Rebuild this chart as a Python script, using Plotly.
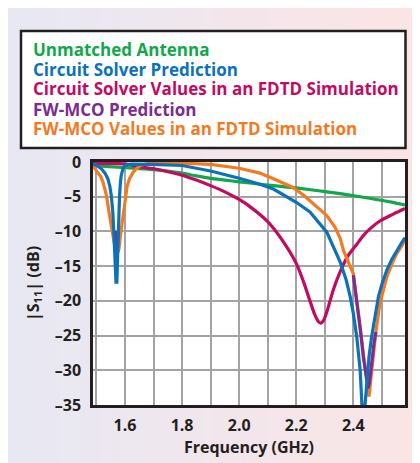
import plotly.graph_objects as go

# ---------------- data ----------------
series_names = [
    "Unmatched Antenna",
    "Circuit Solver Prediction",
    "Circuit Solver Values in an FDTD Simulation",
    "FW-MCO Prediction",
    "FW-MCO Values in an FDTD Simulation",
]
series_colors = ["#10a84a", "#0a72bb", "#c4095f", "#7d2b90", "#f57a1f"]

green_x = [1.488, 1.52, 1.56, 1.606, 1.65, 1.69, 1.75, 1.80, 1.85, 1.90, 1.95, 2.00,
           2.073, 2.13, 2.19, 2.25, 2.307, 2.36, 2.424, 2.48, 2.53, 2.581]
green_y = [-0.5, -0.6, -0.7, -0.8, -0.95, -1.05, -1.3, -1.6, -2.0, -2.35, -2.6, -2.85,
           -3.2, -3.45, -3.7, -4.0, -4.3, -4.6, -5.0, -5.4, -5.75, -6.2]

blue_x = [1.488, 1.50, 1.517, 1.53, 1.540, 1.547, 1.552, 1.557, 1.561, 1.565, 1.5685,
          1.5715, 1.5735, 1.575, 1.578, 1.581, 1.584, 1.587, 1.593, 1.599, 1.62, 1.69,
          1.80, 1.90, 2.00, 2.073, 2.12, 2.16, 2.20, 2.248, 2.307, 2.354, 2.375, 2.389,
          2.40, 2.412, 2.424, 2.43, 2.436, 2.441, 2.447, 2.455, 2.464, 2.476, 2.488,
          2.50, 2.517, 2.535, 2.552, 2.568, 2.581]
blue_y = [-0.3, -0.45, -0.95, -1.6, -2.4, -3.5, -4.8, -7.0, -10.1, -13.8, -17.3,
          -17.3, -14.0, -11.0, -7.5, -4.8, -3.0, -1.9, -1.0, -0.5, -0.3, -0.33,
          -0.5, -1.3, -2.35, -3.2, -3.9, -4.8, -5.8, -7.2, -10.1, -14.4, -17.0, -19.4,
          -21.8, -25.2, -30.0, -35.0, -37.0, -35.0, -31.4, -28.0, -25.2, -22.0, -19.4,
          -17.6, -15.6, -14.0, -12.7, -11.7, -10.9]

magenta_x = [1.488, 1.55, 1.606, 1.652, 1.69, 1.75, 1.80, 1.85, 1.90, 1.95, 2.00, 2.04,
             2.10, 2.155, 2.20, 2.226, 2.248, 2.265, 2.276, 2.286, 2.296, 2.307, 2.33,
             2.354, 2.38, 2.413, 2.435, 2.459, 2.493, 2.54, 2.581]
magenta_y = [-0.2, -0.2, -0.3, -0.7, -0.9, -1.4, -1.9, -2.6, -3.4, -4.3, -5.4, -6.5,
             -8.6, -11.5, -14.6, -17.3, -20.0, -22.0, -22.9, -23.2, -22.8, -21.6, -18.4,
             -15.8, -13.6, -11.8, -10.6, -9.6, -8.5, -7.5, -6.7]

orange_x = [1.488, 1.504, 1.515, 1.523, 1.535, 1.546, 1.558, 1.566, 1.572, 1.579, 1.584,
            1.593, 1.601, 1.608, 1.616, 1.628, 1.640, 1.655, 1.675, 1.72, 1.80, 1.90,
            2.00, 2.073, 2.13, 2.19, 2.226, 2.26, 2.307, 2.336, 2.354, 2.366, 2.40,
            2.418, 2.435, 2.447, 2.455, 2.463, 2.472, 2.479, 2.493, 2.517, 2.535,
            2.552, 2.568, 2.581]
orange_y = [-0.6, -1.4, -2.1, -2.9, -4.8, -7.7, -10.6, -12.5, -13.3, -12.5, -10.6,
            -7.7, -4.8, -3.4, -2.4, -1.5, -0.95, -0.5, -0.25, -0.15, -0.15, -0.35,
            -0.9, -1.6, -2.6, -3.7, -4.8, -6.0, -7.7, -9.4, -11.0, -12.8, -16.1,
            -21.8, -28.1, -31.6, -33.8, -30.5, -26.5, -24.5, -20.4, -16.6, -14.7,
            -13.2, -12.2, -11.3]

# FW-MCO prediction: only the parts visible above the FDTD curve
purple_x = [1.5655, 1.571, 1.5765, None, 2.40, 2.409, 2.418, 2.427, 2.435, 2.447,
            2.452, 2.457, 2.461, 2.472, 2.479]
purple_y = [-9.9, -13.4, -9.9, None, -16.3, -19.0, -21.8, -25.0, -28.1, -31.4,
            -32.6, -31.6, -30.0, -26.2, -24.5]

x_tickvals = [1.6, 1.8, 2.0, 2.2, 2.4]
x_ticktext = ["1.6", "1.8", "2.0", "2.2", "2.4"]
y_tickvals = [0, -5, -10, -15, -20, -25, -30, -35]
y_ticktext = ["0", "–5", "–10", "–15", "–20", "–25", "–30", "–35"]

# ---------------- figure ----------------
# the page body has an 8 px margin, so the figure is drawn 8 px in from the corner
OFF = 8
W, H = 420 - OFF, 463 - OFF
PL, PR, PT, PB = 93, 405, 162, 405          # plot area in page pixels
ML, MR, MT, MB = PL - OFF, 420 - PR, PT - OFF, 463 - PB
FONT = "Open Sans"
INK = "#231f20"

fig = go.Figure()
trace_data = [
    (green_x, green_y, 0, "spline"),
    (magenta_x, magenta_y, 2, "spline"),
    (orange_x, orange_y, 4, "linear"),
    (purple_x, purple_y, 3, "linear"),
    (blue_x, blue_y, 1, "linear"),
]
for xs, ys, idx, shp in trace_data:
    fig.add_trace(go.Scatter(
        x=xs, y=ys, mode="lines", name=series_names[idx],
        line=dict(color=series_colors[idx], width=3.2, shape=shp,
                  **({"smoothing": 0.8} if shp == "spline" else {})),
        connectgaps=False, showlegend=False, hoverinfo="skip"))

pw = PR - PL
ph = PB - PT


def px_x(p):
    return (p - PL) / pw


def px_y(p):
    return (PB - p) / ph


# background gradient strips, then white plot area
shapes = []
n = 40
c0 = (231, 232, 243)
c1 = (251, 229, 229)
for i in range(n):
    t = i / (n - 1)
    col = tuple(round(c0[k] + (c1[k] - c0[k]) * t) for k in range(3))
    x0px = OFF + (420 - OFF) * i / n
    x1px = OFF + (420 - OFF) * (i + 1) / n + 0.6
    shapes.append(dict(
        type="rect", xref="paper", yref="paper", layer="below",
        x0=px_x(x0px), x1=px_x(x1px), y0=px_y(470), y1=px_y(OFF),
        fillcolor="rgb(%d,%d,%d)" % col, line=dict(width=0)))
shapes.append(dict(type="rect", xref="paper", yref="paper", layer="below",
                   x0=0, x1=1, y0=0, y1=1, fillcolor="white", line=dict(width=0)))
# legend box
shapes.append(dict(type="rect", xref="paper", yref="paper", layer="below",
                   x0=px_x(21), x1=px_x(405.5), y0=px_y(148), y1=px_y(31),
                   fillcolor="white", line=dict(color=INK, width=2.5)))

annotations = []
line_y = [49, 69, 89, 109, 128.5]
for k, idx in enumerate([0, 1, 2, 3, 4]):
    annotations.append(dict(
        xref="paper", yref="paper", x=px_x(31), y=px_y(line_y[k]),
        xanchor="left", yanchor="middle", showarrow=False,
        text="<b>%s</b>" % series_names[idx],
        font=dict(family=FONT, size=17, color=series_colors[idx])))

fig.update_layout(
    width=W, height=H,
    margin=dict(l=ML, r=MR, t=MT, b=MB, autoexpand=False),
    paper_bgcolor="white", plot_bgcolor="white",
    shapes=shapes, annotations=annotations,
    font=dict(family=FONT, color=INK),
)
fig.update_xaxes(
    range=[1.488, 2.581], tickvals=x_tickvals, ticktext=x_ticktext,
    tickfont=dict(family=FONT, size=16, color=INK, weight="bold"),
    showgrid=True, gridcolor="#a3a3a3", gridwidth=1.5,
    minor=dict(dtick=0.1, tick0=1.5, showgrid=True, gridcolor="#a3a3a3", gridwidth=1.5),
    showline=True, linecolor=INK, linewidth=2.5, mirror=True,
    ticks="", zeroline=False, ticklabelstandoff=4, automargin=False,
    title=dict(text="<b>Frequency (GHz)</b>", font=dict(family=FONT, size=16, color=INK),
               standoff=4),
)
fig.update_yaxes(
    range=[-35, 0], tickvals=y_tickvals, ticktext=y_ticktext,
    tickfont=dict(family=FONT, size=16, color=INK, weight="bold"),
    showgrid=True, gridcolor="#a3a3a3", gridwidth=1.5,
    showline=True, linecolor=INK, linewidth=2.5, mirror=True,
    ticks="", zeroline=False, ticklabelstandoff=6, automargin=False,
    title=dict(text="<b>|S<sub>11</sub>| (dB)</b>", font=dict(family=FONT, size=16, color=INK),
               standoff=12),
)

fig.write_html("out.html")
